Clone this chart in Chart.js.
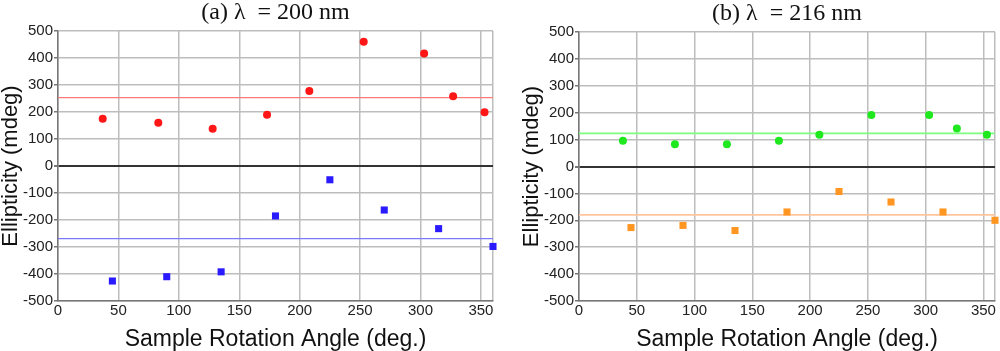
<!DOCTYPE html>
<html>
<head>
<meta charset="utf-8">
<script src="https://cdn.jsdelivr.net/npm/chart.js@4/dist/chart.umd.min.js"></script>
<style>
  body { margin: 0; background: #fff; }
  .wrap { position: absolute; top: 0; width: 500px; height: 351px; }
</style>
</head>
<body>
<div class="wrap" style="left:0"><canvas id="chartA" width="500" height="351"></canvas></div>
<div class="wrap" style="left:500px"><canvas id="chartB" width="500" height="351"></canvas></div>
<script>
// tick labels
const xTicks = [0, 50, 100, 150, 200, 250, 300, 350, 360];
const yTicks = [-500, -400, -300, -200, -100, 0, 100, 200, 300, 400, 500];

// (a) 200 nm
const circleAnglesA = [37, 83, 128, 173, 208, 253, 303, 327, 353];
const circleValuesA = [175, 160, 138, 190, 278, 460, 417, 258, 199];
const squareAnglesA = [45, 90, 135, 180, 225, 270, 315, 360];
const squareValuesA = [-426, -410, -392, -185, -51, -163, -232, -298];
const meanA = [253, -269];

// (b) 216 nm
const circleAnglesB = [38, 83, 128, 173, 208, 253, 303, 327, 353];
const circleValuesB = [96, 83, 83, 96, 118, 191, 191, 141, 118];
const squareAnglesB = [45, 90, 135, 180, 225, 270, 315, 360];
const squareValuesB = [-227, -219, -238, -169, -93, -132, -169, -200];
const meanB = [123, -180];

const pairs = (xs, ys) => xs.map((x, i) => ({ x: x, y: ys[i] }));
const flat = (v) => [{ x: 0, y: v }, { x: 360, y: v }];

const makeChart = (id, title, padLeft, padTop, padRight, circles, squares, means, colors) => {
    const ctx = document.getElementById(id).getContext('2d');
    return new Chart(ctx, {
        type: 'scatter',
        data: {
            datasets: [
                {
                    data: flat(means[0]),
                    type: 'line',
                    borderColor: colors.line1,
                    borderWidth: colors.lineWidth,
                    pointRadius: 0,
                    order: 3
                },
                {
                    data: flat(means[1]),
                    type: 'line',
                    borderColor: colors.line2,
                    borderWidth: colors.lineWidth,
                    pointRadius: 0,
                    order: 3
                },
                {
                    data: circles,
                    pointStyle: 'circle',
                    pointRadius: 4,
                    backgroundColor: colors.dot1,
                    borderWidth: 0,
                    clip: false,
                    order: 1
                },
                {
                    data: squares,
                    pointStyle: 'rect',
                    pointRadius: 5,
                    backgroundColor: colors.dot2,
                    borderWidth: 0,
                    clip: false,
                    order: 1
                }
            ]
        },
        options: {
            responsive: false,
            animation: false,
            events: [],
            layout: { padding: { left: padLeft, top: padTop, right: padRight, bottom: 0 } },
            plugins: {
                legend: { display: false },
                tooltip: { enabled: false },
                title: {
                    display: true,
                    text: title,
                    fullSize: false,
                    color: '#111',
                    font: { family: "'Liberation Serif', 'Times New Roman', serif", size: 24, weight: 'normal', lineHeight: 1.1 },
                    padding: { top: 0, bottom: 4.6 }
                }
            },
            scales: {
                x: {
                    type: 'linear',
                    min: 0,
                    max: 360,
                    afterBuildTicks: (scale) => { scale.ticks = xTicks.map(v => ({ value: v })); },
                    afterFit: (scale) => { scale.height = 50; },
                    border: { color: '#777', width: 1.5 },
                    grid: { color: '#bdbdbd', lineWidth: 1.5, drawTicks: false },
                    ticks: {
                        padding: 1,
                        color: '#222',
                        maxRotation: 0,
                        autoSkip: false,
                        font: { family: "'Liberation Sans', Arial, sans-serif", size: 15 },
                        callback: (v) => (v === 360 ? '' : v)
                    },
                    title: {
                        display: true,
                        text: 'Sample Rotation Angle (deg.)',
                        color: '#111',
                        font: { family: "'Liberation Sans', Arial, sans-serif", size: 23, lineHeight: 1.0 },
                        padding: { top: 0, bottom: 0 }
                    }
                },
                y: {
                    type: 'linear',
                    min: -500,
                    max: 500,
                    afterBuildTicks: (scale) => { scale.ticks = yTicks.map(v => ({ value: v })); },
                    afterFit: (scale) => { scale.width = 58; },
                    border: { color: '#777', width: 1.5 },
                    grid: {
                        color: (c) => (c.tick && c.tick.value === 0 ? '#333' : '#bdbdbd'),
                        lineWidth: (c) => (c.tick && c.tick.value === 0 ? 2 : 1.5),
                        tickColor: '#777',
                        tickLength: 4
                    },
                    ticks: {
                        padding: 1,
                        color: '#222',
                        autoSkip: false,
                        font: { family: "'Liberation Sans', Arial, sans-serif", size: 15 }
                    },
                    title: {
                        display: true,
                        text: 'Ellipticity (mdeg)',
                        color: '#111',
                        font: { family: "'Liberation Sans', Arial, sans-serif", size: 22, lineHeight: 1.0 },
                        padding: { top: 0, bottom: 0 }
                    }
                }
            }
        }
    });
};

makeChart('chartA', '(a) \u03bb  = 200 nm', 0, 0, 7,
    pairs(circleAnglesA, circleValuesA), pairs(squareAnglesA, squareValuesA), meanA,
    { dot1: '#ff1717', dot2: '#2a1aff', line1: '#ff7a7a', line2: '#7a7aff', lineWidth: 1.2 });

makeChart('chartB', '(b) \u03bb  = 216 nm', 21, 1, 5,
    pairs(circleAnglesB, circleValuesB), pairs(squareAnglesB, squareValuesB), meanB,
    { dot1: '#1fe81f', dot2: '#ff9622', line1: '#7dff7d', line2: '#ffc49e', lineWidth: 1.8 });
</script>
</body>
</html>
